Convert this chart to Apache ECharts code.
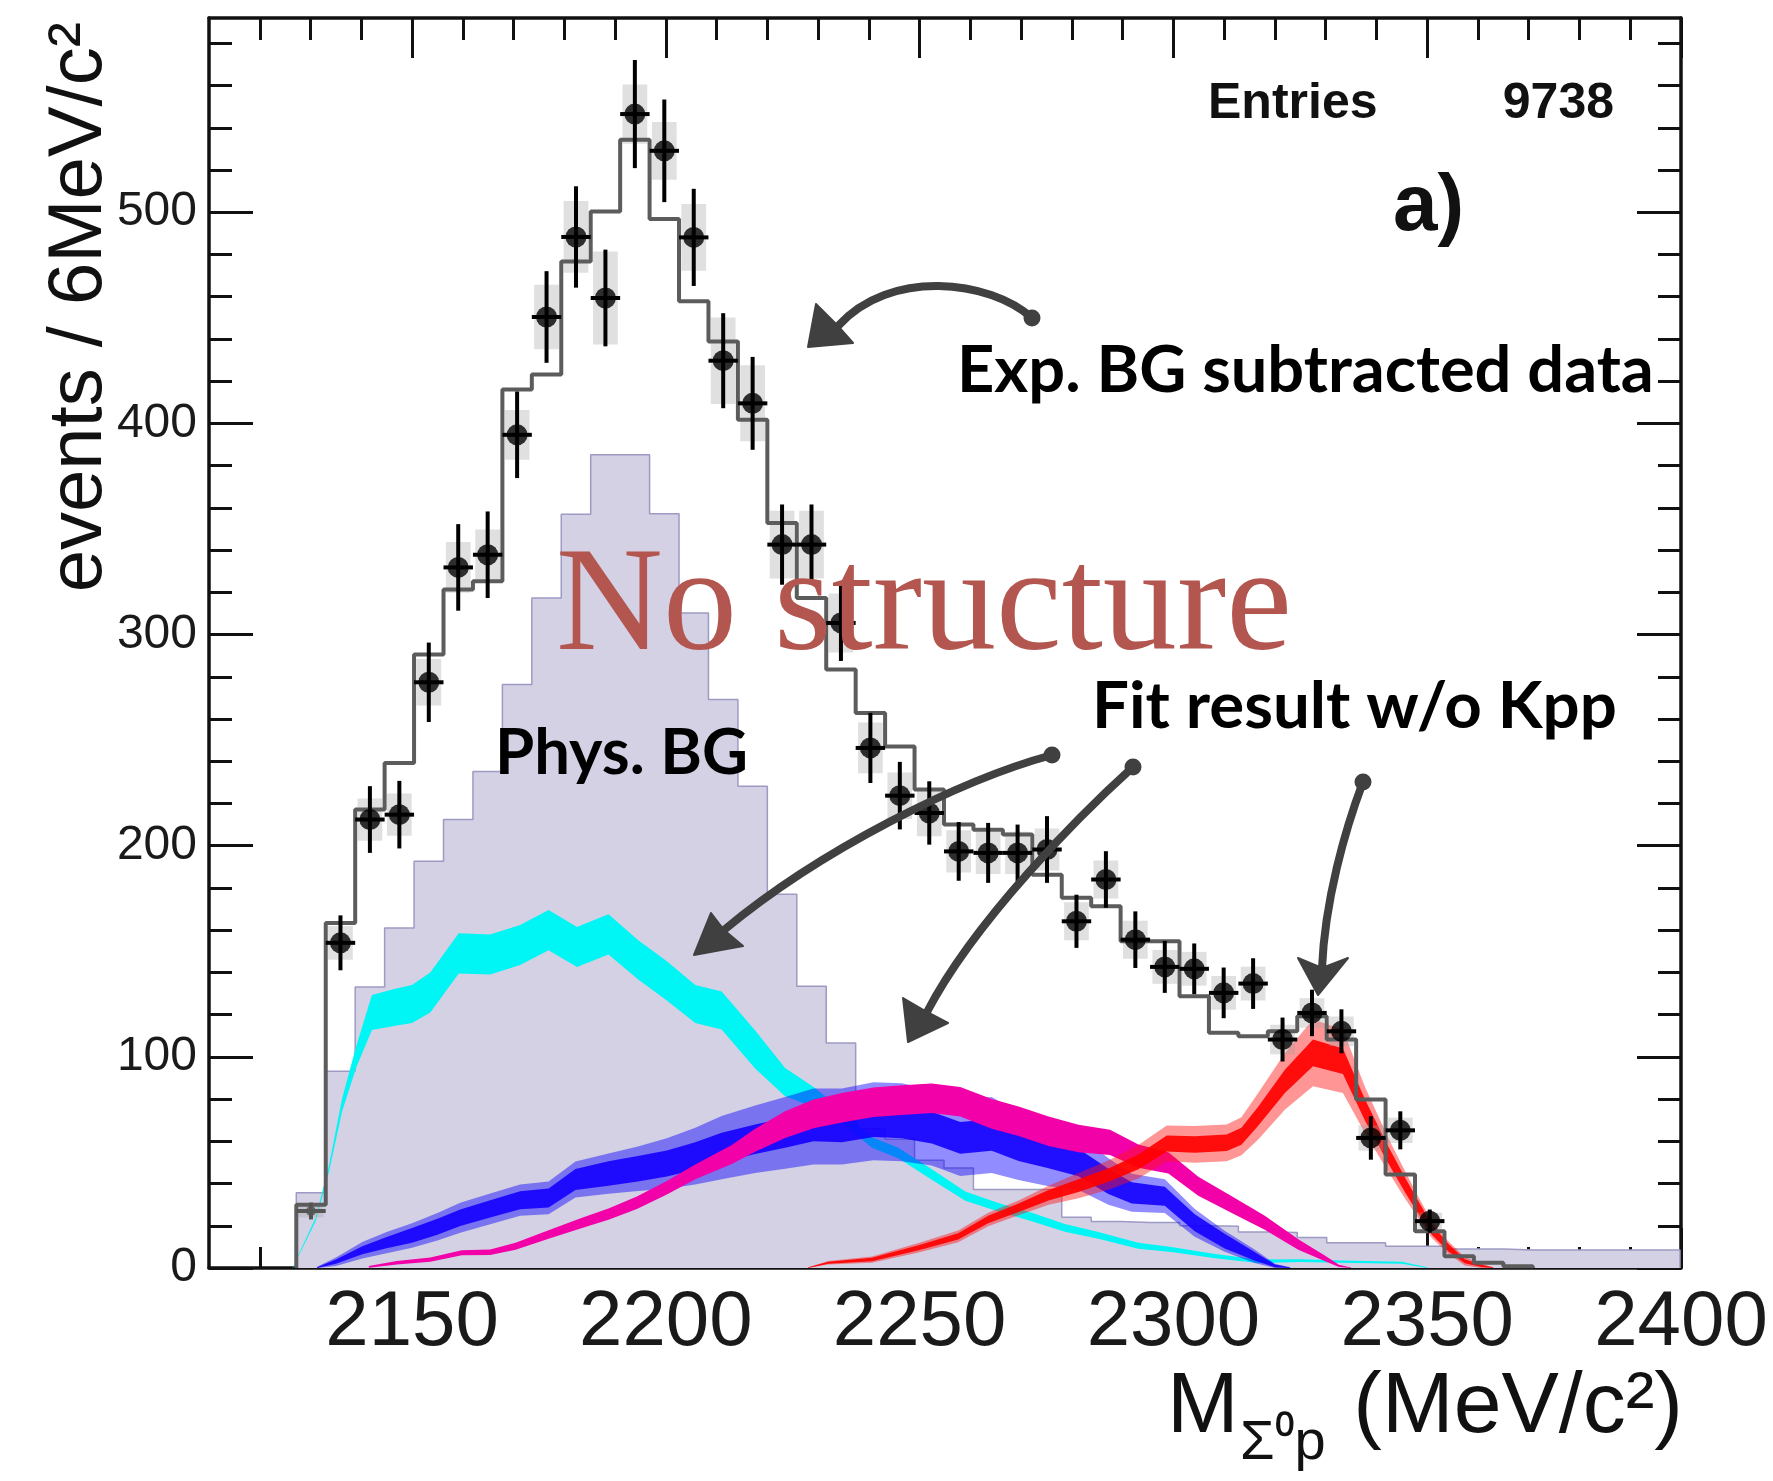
<!DOCTYPE html>
<html><head><meta charset="utf-8">
<script src="https://cdn.jsdelivr.net/npm/echarts@6/dist/echarts.min.js"></script>
<style>html,body{margin:0;padding:0;background:#fff;}#c{width:1773px;height:1481px;}</style>
</head><body><div id="c"></div>
<script>
// ---------------- data ----------------
const binCenters = [2130.1, 2135.9, 2141.7, 2147.5, 2153.3, 2159.1, 2164.9, 2170.7, 2176.5, 2182.3,
  2188.1, 2193.9, 2199.7, 2205.5, 2211.3, 2217.1, 2222.9, 2228.7, 2234.5, 2240.3,
  2246.1, 2251.9, 2257.7, 2263.5, 2269.3, 2275.1, 2280.9, 2286.7, 2292.5, 2298.3,
  2304.1, 2309.9, 2315.7, 2321.5, 2327.3, 2333.1, 2338.9, 2344.7, 2350.5, 2356.3,
  2362.1, 2367.9, 2373.7, 2379.5, 2385.3, 2391.1, 2396.9];
const binWidth = 5.8;
const totalFit = [30, 163.4, 217.1, 239.2, 290.5, 321.3, 325.2, 416, 423.2, 476.7,
  500.4, 534.3, 496.8, 457.8, 438.8, 401.7, 352.8, 317.3, 283.4, 262.9,
  247, 226.6, 210, 207.6, 205.3, 186.3, 175.3, 171.3, 154.7, 154.7,
  128.7, 111.4, 109.8, 112.1, 119.2, 108.2, 79.8, 44.3, 17.4, 5.6, 2.5, 0.8];
const physBG = [35.6, 93.2, 133.1, 161, 192.6, 212.4, 235.2, 276.3, 317.3, 357,
  385.2, 385.2, 357.2, 310.2, 269.2, 228.1, 177, 133.4, 106.6, 66,
  61, 51, 47.4, 37.2, 37.2, 37.2, 24, 22, 21.5, 21.5,
  20, 19.8, 17, 16.8, 14.4, 12, 12, 10.3, 10.3, 9,
  9, 8.5, 8.5, 8.5, 8.5, 8.5, 8.5];
const dataValues = [27, 154, 212.4, 214.7, 277.4, 331.8, 337.8, 394.6, 450.4, 488.3,
  459.4, 546.5, 529.1, 488.1, 429.7, 409.5, 342.6, 342.6, 305.5, 246.3,
  223.7, 215.5, 197.3, 196.6, 196.6, 198.2, 164.2, 184, 155.5, 142.6,
  141.7, 130.3, 134.7, 108.2, 120.8, 112.1, 61.6, 65.2, 22.2];
const dataStat = [4, 13, 15.8, 16, 18.8, 20.5, 20.5, 20.5, 21.7, 24,
  22.9, 25.6, 24.3, 23, 22.5, 22, 19, 19, 18, 16.6,
  16, 15, 13.9, 14.2, 13.4, 15.8, 12.6, 13.4, 13.4, 12.3,
  12, 12, 12, 10.4, 11, 10.4, 10.3, 9, 5.5];
const dataSyst = [3, 8, 10, 10, 11, 12, 12, 11.8, 15.3, 17,
  22, 14, 13.7, 15.8, 20.5, 18, 16, 16, 14, 12,
  11, 11, 10, 10, 10, 10, 9, 9, 9, 8,
  8, 8, 8, 7, 7, 7, 6, 6, 4];

const cyanX = [2126.5, 2131, 2133.6, 2136.2, 2139, 2142.1, 2146.7, 2150, 2153.6, 2159.2, 2165.4, 2171.3, 2176.9, 2182.5, 2188.7, 2194.5, 2200.2, 2205.8, 2211, 2217.6, 2223.5, 2229.1, 2234.7, 2240.6, 2245.8, 2252.4, 2259, 2265.5, 2272.1, 2278.6, 2285.2, 2293.1, 2299.6, 2308.2, 2316.7, 2325, 2333, 2345, 2350];
const cyanMid = [0, 23, 46.6, 77, 100, 121, 123.5, 125, 130.5, 149, 148.5, 153, 160, 152, 158, 146, 136, 125, 122, 103.5, 88, 81, 72, 59.4, 54.5, 44.3, 34, 28.8, 24.2, 19, 15.5, 10.5, 8.8, 5.6, 3.2, 3.5, 3, 2.5, 0];
const cyanHalf = [0.3, 0.8, 1.5, 3, 5, 8.3, 8.8, 9, 9.5, 9.5, 9.5, 9.5, 9.5, 9.5, 9.5, 9.3, 9.3, 9, 9, 9, 6.7, 4.7, 3.2, 2.5, 2.5, 2.5, 2.2, 2, 2, 1.8, 1.6, 1.4, 1.2, 1, 0.8, 0.6, 0.5, 0.5, 0.3];

const blueX = [2131.3, 2135, 2140.2, 2145, 2150, 2155, 2159.5, 2165.4, 2171.3, 2176.9, 2182.2, 2188.7, 2194.5, 2200.2, 2205.8, 2211, 2217.6, 2223.5, 2229.1, 2234.7, 2240.9, 2246.5, 2252.4, 2258, 2264.2, 2269.5, 2275.4, 2281.3, 2287.2, 2291.8, 2298.3, 2304.2, 2310.1, 2316, 2320, 2323];
const blueMid = [0, 3, 8.4, 12, 15.4, 19.5, 23.8, 28, 32.1, 33.2, 41.9, 44.7, 47, 49.5, 53, 57, 61, 64, 67, 67, 69.5, 69, 66.5, 61.6, 63, 57.7, 53.7, 50, 41, 35.6, 34, 21.4, 12.7, 5.6, 1, 0];
const blueInner = [0.3, 1, 1.9, 2.7, 3.5, 3.8, 3.9, 4.1, 4.3, 4.5, 5, 5.8, 6, 6.2, 6.5, 7, 7, 7, 7, 7.5, 7.5, 7.5, 7.5, 7.5, 7.5, 7, 6.5, 6.5, 6, 5, 4.5, 4, 3.5, 2, 0.6, 0.2];
const blueOuter = [0.6, 2, 3.9, 5, 5.8, 6.5, 7.1, 7.3, 7.4, 7.8, 8.5, 9.5, 10.5, 12, 13.4, 15, 16, 17, 18, 18, 18.5, 18.5, 18, 18, 18, 16, 15, 13, 11, 9, 8, 6.6, 5, 3.2, 1, 0.3];

const magentaX = [2141.5, 2147, 2153.6, 2159.8, 2165.4, 2170.4, 2176.9, 2183.5, 2188.7, 2194.3, 2200.2, 2205.8, 2213, 2217.6, 2223.5, 2229.1, 2234.7, 2240.9, 2246.5, 2252.4, 2258, 2264.2, 2269.5, 2275.4, 2281.3, 2287.5, 2293.1, 2299, 2304.9, 2311.5, 2318, 2324.6, 2329.9, 2332.6, 2335];
const magentaMid = [0.5, 2.5, 4, 7.2, 7.5, 10.3, 15.9, 21.4, 25.5, 30.9, 38, 45.5, 53.7, 60.5, 67.9, 73, 75.9, 78.5, 79.5, 80.4, 78.7, 73, 69.5, 64.8, 61.3, 59.5, 53, 49.8, 38.7, 30, 21.4, 11.1, 4.5, 1, 0];
const magentaHalf = [0.4, 0.8, 1, 1.2, 1.3, 1.6, 2, 2.4, 2.7, 3, 3.2, 3.5, 4.5, 5.5, 6.3, 6.8, 7, 7, 7, 7, 7, 7, 7, 7, 6.5, 6, 5.5, 5, 4.5, 4, 3.3, 2.5, 1.3, 0.5, 0.2];

const redX = [2228, 2232, 2240.6, 2249.8, 2257.6, 2263.5, 2269.5, 2275.4, 2281.3, 2287.5, 2293.1, 2298.7, 2304.2, 2310.5, 2313.4, 2316.7, 2322, 2327.5, 2333.4, 2337.7, 2342.3, 2345.6, 2348.3, 2350.9, 2354.2, 2357.4, 2360.7, 2363];
const redMid = [0, 2.5, 4, 9.6, 15, 23, 28.5, 34.5, 39, 44.3, 50.3, 59, 58.5, 59.3, 62.4, 71.9, 88.5, 101.9, 97.9, 75, 53.7, 39.5, 28.5, 18.2, 9.6, 3.2, 1, 0];
const redInner = [0.2, 0.5, 0.8, 1.2, 1.5, 1.8, 2, 2.5, 3, 3.2, 3.5, 3.8, 3.9, 3.9, 4, 4.5, 5.5, 6.3, 6, 5, 4, 3.5, 3, 2.5, 1.8, 1, 0.5, 0.2];
const redOuter = [0.3, 0.8, 1.5, 2.2, 2.8, 3.2, 3.5, 4.5, 6, 7, 7.9, 8.5, 8.7, 8.7, 9, 11, 13.4, 15.8, 15, 11, 8, 6.5, 5, 4, 3, 2, 1, 0.3];

const xMajorTicks = [2150, 2200, 2250, 2300, 2350, 2400];
const xMinorTicks = [2120, 2130, 2140, 2160, 2170, 2180, 2190, 2210, 2220, 2230, 2240, 2260, 2270, 2280, 2290, 2310, 2320, 2330, 2340, 2360, 2370, 2380, 2390];
const yMajorTicks = [0, 100, 200, 300, 400, 500];
const yMinorTicks = [20, 40, 60, 80, 120, 140, 160, 180, 220, 240, 260, 280, 320, 340, 360, 380, 420, 440, 460, 480, 520, 540, 560, 580];

const entriesCount = '9738';

// ---------------- helpers ----------------
function stepData(values) {
  const pts = [[binCenters[0] - binWidth / 2, 0]];
  values.forEach((v, i) => pts.push([binCenters[i] - binWidth / 2, v]));
  const last = values.length - 1;
  pts.push([binCenters[last] + binWidth / 2, values[last]]);
  pts.push([binCenters[last] + binWidth / 2, 0]);
  return pts;
}
function bandSeries(xs, mid, half, color, z) {
  return {
    type: 'custom', z: z, silent: true, clip: true,
    data: [[xs[0], mid[0]]],
    renderItem: function (params, api) {
      const pts = [];
      for (let i = 0; i < xs.length; i++) pts.push(api.coord([xs[i], mid[i] + half[i]]));
      for (let i = xs.length - 1; i >= 0; i--) pts.push(api.coord([xs[i], Math.max(0, mid[i] - half[i])]));
      return { type: 'polygon', shape: { points: pts }, style: { fill: color } };
    }
  };
}
const mctx = document.createElement('canvas').getContext('2d');
function fitSize(text, font, weight, target) {
  mctx.font = weight + ' 100px ' + font;
  return 100 * target / mctx.measureText(text).width;
}
function txt(text, x, y, size, opts) {
  opts = opts || {};
  return {
    type: 'text', x: x, y: y, rotation: opts.rotation || 0, z: 100,
    style: {
      text: text,
      font: (opts.weight || 'normal') + ' ' + size + 'px ' + (opts.family || '"Liberation Sans", Arial, sans-serif'),
      fill: opts.color || '#111',
      textAlign: opts.align || 'left', align: opts.align || 'left',
      textVerticalAlign: 'middle', verticalAlign: 'middle'
    }
  };
}
const ARROW = '#404040';
function arrow(p0, c1, c2, p3, head) {
  return [
    { type: 'bezierCurve', z: 90, shape: { x1: p0[0], y1: p0[1], cpx1: c1[0], cpy1: c1[1], cpx2: c2[0], cpy2: c2[1], x2: p3[0], y2: p3[1] },
      style: { stroke: ARROW, lineWidth: 8, fill: null, lineCap: 'round' } },
    { type: 'circle', z: 90, shape: { cx: p0[0], cy: p0[1], r: 8.5 }, style: { fill: ARROW } },
    { type: 'polygon', z: 90, shape: { points: head }, style: { fill: ARROW, stroke: ARROW, lineWidth: 2, lineJoin: 'round' } }
  ];
}

// ---------------- annotation layout ----------------
const FUT = 'Lato, "Open Sans", sans-serif';
const sExp = fitSize('Exp. BG subtracted data', FUT, 'bold', 697);
const sPhys = fitSize('Phys. BG', FUT, 'bold', 253);
const sFit = fitSize('Fit result w/o Kpp', FUT, 'bold', 525);
const SER = '"Liberation Serif", "Times New Roman", serif';
const sNo = fitSize('No structure', SER, 'normal', 736);

const graphics = [
  txt('Entries', 1208, 104, 50, { weight: 'bold' }),
  txt(entriesCount, 1614, 104, 50, { weight: 'bold', align: 'right' }),
  txt('a)', 1393, 208, 80, { weight: 'bold' }),
  txt('events / 6MeV/c\u00B2', 80, 22, 76, { rotation: Math.PI / 2, align: 'right' }),
  txt('M', 1167, 1408, 86),
  txt('\u03A3\u2070p', 1240, 1444, 56),
  txt('(MeV/c\u00B2)', 1683, 1408, 86, { align: 'right' }),
  txt('Exp. BG subtracted data', 957, 395 - 0.37 * sExp, sExp, { family: FUT, weight: 'bold', color: '#000' }),
  txt('Phys. BG', 495, 777 - 0.37 * sPhys, sPhys, { family: FUT, weight: 'bold', color: '#000' }),
  txt('Fit result w/o Kpp', 1092, 731 - 0.37 * sFit, sFit, { family: FUT, weight: 'bold', color: '#000' }),
  txt('No structure', 556, 660 - 0.34 * sNo, sNo, { family: SER, color: '#b3564f' })
].concat(
  arrow([1032, 318], [990, 280], [890, 268], [838, 326], [[808, 347], [816, 304], [838, 326], [853, 343]]),
  arrow([1052, 755], [960, 780], [820, 850], [724, 930], [[694, 955], [711, 913], [724, 930], [743, 946]]),
  arrow([1133, 767], [1080, 815], [975, 920], [927, 1012], [[908, 1042], [903, 998], [927, 1012], [948, 1023]]),
  arrow([1363, 782], [1345, 830], [1325, 900], [1322, 968], [[1318, 995], [1298, 958], [1322, 968], [1348, 958]])
);

// ---------------- axes ----------------
const AX = '#111';
const labelFont = '"Liberation Sans", Arial, sans-serif';
const plainNum = function (v) { return String(Math.round(v)); };
function xAx(pos, ticks, len, line, labels) {
  return {
    type: 'value', min: 2110, max: 2400, position: pos, scale: true,
    axisLine: { show: line, onZero: false, lineStyle: { color: AX, width: 3.5 } },
    axisTick: { show: true, inside: true, length: len, customValues: ticks, lineStyle: { color: AX, width: 3 } },
    axisLabel: labels ? { show: true, customValues: xMajorTicks, formatter: plainNum, fontSize: 78, margin: 16, color: '#1a1a1a', fontFamily: labelFont } : { show: false },
    splitLine: { show: false }, minorTick: { show: false }
  };
}
function yAx(pos, ticks, len, line, labels) {
  return {
    type: 'value', min: 0, max: 592, position: pos,
    axisLine: { show: line, onZero: false, lineStyle: { color: AX, width: 3.5 } },
    axisTick: { show: true, inside: true, length: len, customValues: ticks, lineStyle: { color: AX, width: 3 } },
    axisLabel: labels ? { show: true, customValues: yMajorTicks, formatter: plainNum, fontSize: 48, margin: 12, color: '#1a1a1a', fontFamily: labelFont } : { show: false },
    splitLine: { show: false }, minorTick: { show: false }
  };
}

// ---------------- series ----------------
const series = [
  { type: 'line', name: 'Phys. BG', step: 'end', data: stepData(physBG), symbol: 'none', z: 1, silent: true,
    lineStyle: { color: '#9d9ac4', width: 1.5 }, areaStyle: { color: '#d3d1e3', opacity: 1 } },
  bandSeries(cyanX, cyanMid, cyanHalf, '#00f5f5', 2),
  bandSeries(blueX, blueMid, blueOuter, 'rgba(10,0,255,0.45)', 3),
  bandSeries(blueX, blueMid, blueInner, 'rgba(20,0,255,0.9)', 4),
  bandSeries(magentaX, magentaMid, magentaHalf, '#f200a8', 5),
  bandSeries(redX, redMid, redOuter, 'rgba(255,20,20,0.45)', 6),
  bandSeries(redX, redMid, redInner, 'rgba(255,0,0,0.92)', 7),
  { type: 'custom', z: 8, silent: true,
    data: dataValues.map((v, i) => [binCenters[i], v, dataSyst[i]]),
    renderItem: function (params, api) {
      const x = api.value(0), v = api.value(1), s = api.value(2);
      const a = api.coord([x - binWidth * 0.42, v + s]);
      const b = api.coord([x + binWidth * 0.42, v - s]);
      return { type: 'rect', shape: { x: a[0], y: a[1], width: b[0] - a[0], height: b[1] - a[1] }, style: { fill: 'rgba(160,160,160,0.32)' } };
    } },
  { type: 'line', name: 'Fit', step: 'end', data: stepData(totalFit), symbol: 'none', z: 9, silent: true,
    lineStyle: { color: '#5c5c5c', width: 4 } },
  { type: 'custom', z: 10, silent: true,
    data: dataValues.map((v, i) => [binCenters[i], v, dataStat[i]]),
    renderItem: function (params, api) {
      const x = api.value(0), v = api.value(1), e = api.value(2);
      const t = api.coord([x, v + e]), b = api.coord([x, v - e]);
      const l = api.coord([x - binWidth / 2, v]), r = api.coord([x + binWidth / 2, v]);
      const st = { stroke: params.dataIndex === 0 ? '#555' : '#000', lineWidth: 4 };
      return { type: 'group', children: [
        { type: 'line', shape: { x1: t[0], y1: t[1], x2: b[0], y2: b[1] }, style: st },
        { type: 'line', shape: { x1: l[0], y1: l[1], x2: r[0], y2: r[1] }, style: st }
      ] };
    } },
  { type: 'scatter', z: 11, silent: true,
    data: dataValues.map((v, i) => ({ value: [binCenters[i], v], symbolSize: i === 0 ? 10 : 21, itemStyle: { color: i === 0 ? '#555' : '#000' } })),
    symbol: 'circle' }
];

const chart = echarts.init(document.getElementById('c'), null, { renderer: 'canvas', width: 1773, height: 1481 });
chart.setOption({
  animation: false,
  backgroundColor: '#fff',
  grid: { left: 209, top: 18, width: 1472, height: 1250, containLabel: false },
  xAxis: [
    xAx('bottom', xMajorTicks, 40, true, true),
    xAx('bottom', xMinorTicks, 21, false, false),
    xAx('top', xMajorTicks, 40, true, false),
    xAx('top', xMinorTicks, 22, false, false)
  ],
  yAxis: [
    yAx('left', yMajorTicks, 44, true, true),
    yAx('left', yMinorTicks, 23, false, false),
    yAx('right', yMajorTicks, 44, true, false),
    yAx('right', yMinorTicks, 23, false, false)
  ],
  series: series,
  graphic: graphics
});
</script>
</body></html>
